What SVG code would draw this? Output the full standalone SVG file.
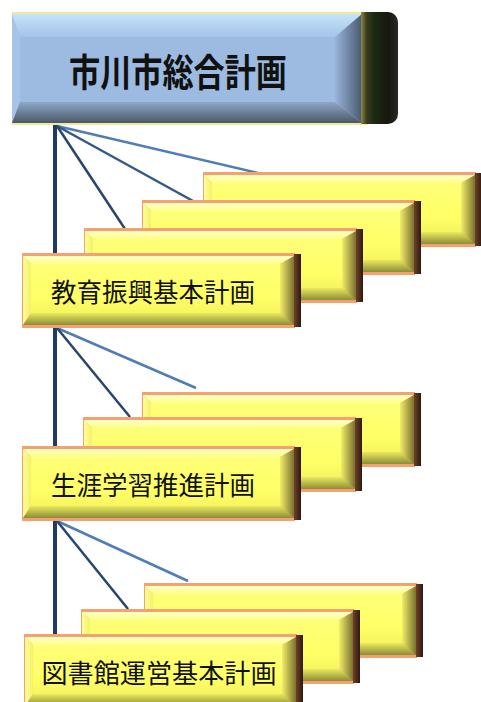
<svg xmlns="http://www.w3.org/2000/svg" xmlns:xlink="http://www.w3.org/1999/xlink" width="481" height="702" viewBox="0 0 481 702">
  <style>
    .lbl { font-family: "Noto Sans CJK JP", "Noto Sans CJK SC", sans-serif; font-size: 26px; fill: #111; font-weight: normal; }
    .ttl { font-family: "Noto Sans CJK JP", "Noto Sans CJK SC", sans-serif; font-size: 38px; fill: #111; font-weight: bold; }
    .vline { stroke: #1F3B63; stroke-width: 4; fill: none; }
    .d1 { stroke: #27466E; stroke-width: 2.5; fill: none; }
    .d2 { stroke: #325A88; stroke-width: 2.5; fill: none; }
    .d3 { stroke: #4F7DB5; stroke-width: 2.5; fill: none; }
  </style>
  <defs>
    <linearGradient id="yTop" x1="0" y1="0" x2="0" y2="1">
      <stop offset="0" stop-color="#FFFFC8"/>
      <stop offset="1" stop-color="#FFFF88"/>
    </linearGradient>
    <linearGradient id="yLeft" x1="0" y1="0" x2="1" y2="0">
      <stop offset="0" stop-color="#FFFF9A"/>
      <stop offset="1" stop-color="#F4F065"/>
    </linearGradient>
    <linearGradient id="yBot" x1="0" y1="0" x2="0" y2="1">
      <stop offset="0" stop-color="#EAEA5E"/>
      <stop offset="1" stop-color="#8C8C38"/>
    </linearGradient>
    <linearGradient id="yRight" x1="0" y1="0" x2="1" y2="0">
      <stop offset="0" stop-color="#F2EE68"/>
      <stop offset="1" stop-color="#7A7030"/>
    </linearGradient>
    <linearGradient id="yFace" x1="0" y1="0" x2="0" y2="1">
      <stop offset="0" stop-color="#FFFF78"/>
      <stop offset="0.7" stop-color="#FFFF66"/>
      <stop offset="1" stop-color="#F6F460"/>
    </linearGradient>
    <linearGradient id="brown" x1="0" y1="0" x2="1" y2="0">
      <stop offset="0" stop-color="#6E4028"/>
      <stop offset="1" stop-color="#2E1A10"/>
    </linearGradient>
    <linearGradient id="bTop" x1="0" y1="0" x2="0" y2="1">
      <stop offset="0" stop-color="#C6E4FB"/>
      <stop offset="1" stop-color="#A4C3E8"/>
    </linearGradient>
    <linearGradient id="bBot" x1="0" y1="0" x2="0" y2="1">
      <stop offset="0" stop-color="#8EA8C8"/>
      <stop offset="1" stop-color="#4C5868"/>
    </linearGradient>
    <linearGradient id="bRight" x1="0" y1="0" x2="1" y2="0">
      <stop offset="0" stop-color="#98B4D8"/>
      <stop offset="1" stop-color="#4A5A70"/>
    </linearGradient>
    <linearGradient id="cap" x1="0" y1="0" x2="1" y2="0">
      <stop offset="0" stop-color="#8C8A42"/>
      <stop offset="0.15" stop-color="#3C3C20"/>
      <stop offset="0.35" stop-color="#1C2A12"/>
      <stop offset="0.75" stop-color="#161810"/>
      <stop offset="1" stop-color="#2A2A26"/>
    </linearGradient>
    <symbol id="ybox" viewBox="0 0 279 75" width="279" height="75" overflow="visible">
      <rect x="0" y="0" width="273" height="75" fill="#F5A070"/>
      <rect x="272" y="1" width="7" height="73" fill="url(#brown)"/>
      <polygon points="1,3 272,3 258,11 9,11" fill="url(#yTop)"/>
      <polygon points="1,3 9,11 9,60 1,72" fill="url(#yLeft)"/>
      <polygon points="1,72 9,60 258,60 272,72" fill="url(#yBot)"/>
      <polygon points="272,3 258,11 258,60 272,72" fill="url(#yRight)"/>
      <rect x="9" y="11" width="249" height="49" fill="url(#yFace)"/>
    </symbol>
  </defs>

  <g id="connectors">
    <line class="vline" x1="55" y1="124" x2="55" y2="640"/>
    <line class="d3" x1="57" y1="126" x2="258" y2="173"/>
    <line class="d2" x1="57" y1="126" x2="193" y2="201"/>
    <line class="d1" x1="57" y1="126" x2="125" y2="229"/>
    <line class="d3" x1="57" y1="328" x2="196" y2="388"/>
    <line class="d1" x1="57" y1="328" x2="130" y2="417"/>
    <line class="d3" x1="57" y1="521" x2="188" y2="581"/>
    <line class="d1" x1="57" y1="521" x2="128" y2="609"/>
  </g>

  <g id="root-node">
    <rect x="12" y="12" width="356" height="113" fill="#F2EA96"/>
    <rect x="12" y="14" width="350" height="109" fill="#9DBBE0"/>
    <polygon points="12,14 362,14 335,37 20,37" fill="url(#bTop)"/>
    <polygon points="12,14 20,37 20,102 12,123" fill="#A6C4E7"/>
    <polygon points="12,123 20,102 335,102 362,123" fill="url(#bBot)"/>
    <polygon points="362,14 335,37 335,102 362,123" fill="url(#bRight)"/>
    <path d="M361,12 H388 A10,10 0 0 1 398,22 V114 A10,10 0 0 1 388,124 H361 Z" fill="url(#cap)"/>
    <text class="ttl" x="69" y="69" dominant-baseline="central" textLength="218" lengthAdjust="spacingAndGlyphs">市川市総合計画</text>
  </g>

  <g id="plan-a1"><use href="#ybox" x="203" y="172"/></g>
  <g id="plan-a2"><use href="#ybox" x="142" y="200"/></g>
  <g id="plan-a3"><use href="#ybox" x="84" y="228"/></g>
  <g id="kyouiku">
    <use href="#ybox" x="22" y="253"/>
    <text class="lbl" x="51" y="290" dominant-baseline="central" textLength="204" lengthAdjust="spacingAndGlyphs">教育振興基本計画</text>
  </g>

  <g id="plan-b1"><use href="#ybox" x="142" y="392"/></g>
  <g id="plan-b2"><use href="#ybox" x="83" y="417"/></g>
  <g id="shougai">
    <use href="#ybox" x="22" y="446"/>
    <text class="lbl" x="51" y="483.5" dominant-baseline="central" textLength="204" lengthAdjust="spacingAndGlyphs">生涯学習推進計画</text>
  </g>

  <g id="plan-c1"><use href="#ybox" x="144" y="583"/></g>
  <g id="plan-c2"><use href="#ybox" x="81" y="609"/></g>
  <g id="toshokan">
    <use href="#ybox" x="24" y="634"/>
    <text class="lbl" x="41.5" y="671.5" dominant-baseline="central" textLength="235" lengthAdjust="spacingAndGlyphs">図書館運営基本計画</text>
  </g>
</svg>
